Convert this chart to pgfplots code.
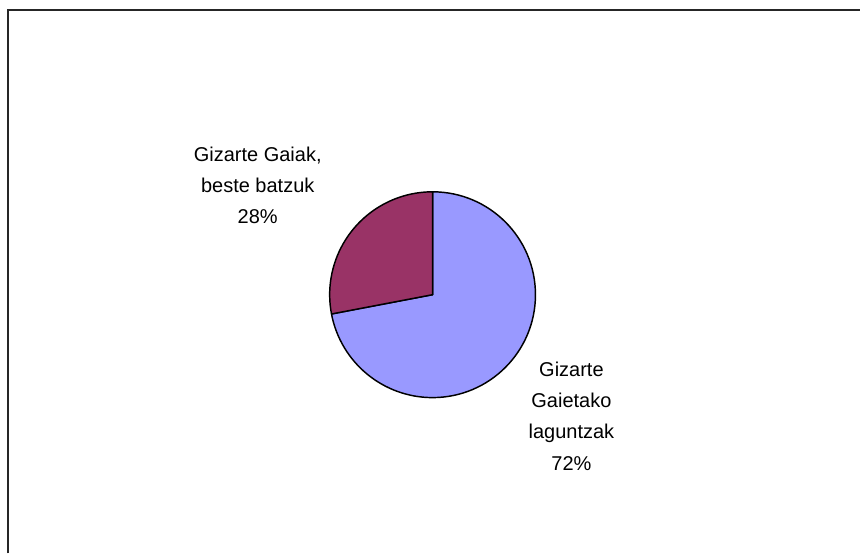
\documentclass[border=0pt]{standalone}
\usepackage{pgfplots}
\pgfplotsset{compat=1.18}
\usepackage{fontspec}
\setmainfont{Liberation Sans}
\definecolor{slicea}{HTML}{9999FF}
\definecolor{sliceb}{HTML}{993366}
% pie values (percent)
\def\valA{72}
\def\valB{28}
\begin{document}
\begin{tikzpicture}
\begin{axis}[
    hide axis, scale only axis, clip=false,
    width=645.75pt, height=415.5pt,
    xmin=0, xmax=861, ymin=0, ymax=554,
]
% fix the picture's extent to the full canvas
\path (axis cs:0,0) (axis cs:861,554);
% frame (top and left edges only, as in the original)
\draw[line width=1.3pt, black!85] (axis cs:8,0) -- (axis cs:8,544) -- (axis cs:861,544);
\pgfmathsetmacro\angA{90-3.6*\valA}
\pgfmathsetmacro\angB{90+3.6*\valB}
\filldraw[fill=slicea, draw=black, line width=1.1pt, line join=round]
    (axis cs:433,259) -- ++(90:77.25pt) arc[start angle=90, end angle=\angA, radius=77.25pt] -- cycle;
\filldraw[fill=sliceb, draw=black, line width=1.1pt, line join=round]
    (axis cs:433,259) -- ++(90:77.25pt) arc[start angle=90, end angle=\angB, radius=77.25pt] -- cycle;
\node[align=center, font=\fontsize{15}{23.5}\selectfont] at (axis cs:258,368.5)
    {Gizarte Gaiak,\\beste batzuk\\\valB\%};
\node[align=center, font=\fontsize{15}{23.5}\selectfont] at (axis cs:572,137.5)
    {Gizarte\\Gaietako\\laguntzak\\\valA\%};
\end{axis}
\end{tikzpicture}
\end{document}
